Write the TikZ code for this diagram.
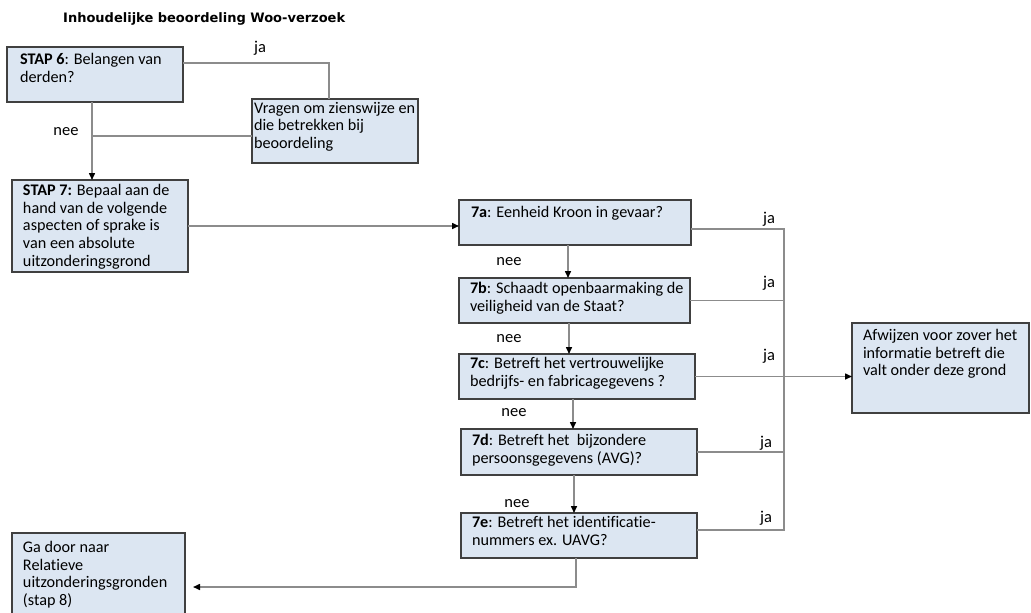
\documentclass[tikz,border=0pt]{standalone}
\usepackage{fontspec}
\setmainfont[Ligatures=NoCommon]{Carlito}
\newfontfamily\titlefont{DejaVu Sans}
\usetikzlibrary{arrows.meta}

\definecolor{boxfill}{HTML}{DCE6F2}
\definecolor{boxline}{HTML}{404040}
\definecolor{connline}{HTML}{8C8C8C}

\tikzset{
  fbox/.style={draw=boxline, fill=boxfill, line width=1.5pt, anchor=north west,
    outer sep=0pt, font=\fontsize{16.2}{17.8}\selectfont},
  conn/.style={draw=connline, line width=1.5pt},
  arr/.style={conn, -{Triangle[length=7pt,width=6pt,color=black]}},
  lbl/.style={anchor=base, inner sep=0pt, font=\fontsize{16.5}{18}\selectfont},
}

% #1 name, #2..#5 corners (x1,y1,x2,y2), #6 left padding, #7 first baseline offset, #8 lines
\newcommand\flowbox[8]{%
  \node[fbox, minimum width=#4pt-#2pt, minimum height=#5pt-#3pt,
        inner xsep=#6pt, inner ysep=#7pt-11pt] (#1) at (#2,#3)
    {\parbox[t][\dimexpr #5pt-#3pt-(#7pt-11pt)*2\relax][t]{\dimexpr #4pt-#2pt-#6pt*2\relax}%
      {\raggedright\rule{0pt}{11pt}#8}};}

\begin{document}
\begin{tikzpicture}[x=1pt, y=-1pt]
\useasboundingbox (0,0) rectangle (1031,613);

\node[anchor=base west, inner sep=0pt, font=\titlefont\bfseries\fontsize{13}{15}\selectfont]
  (title) at (63,22) {Inhoudelijke beoordeling Woo-verzoek};

% boxes
\flowbox{s6}{7}{47}{183}{102}{13}{17}{\mbox{\textbf{STAP 6}: Belangen van}\\\mbox{derden?}}
\flowbox{vr}{252}{99}{418}{163}{2}{14}{\mbox{Vragen om zienswijze en}\\\mbox{die betrekken bij}\\\mbox{beoordeling}}
\flowbox{s7}{12}{180}{188}{272}{11}{15}{\mbox{\textbf{STAP 7:} Bepaal aan de}\\\mbox{hand van de volgende}\\\mbox{aspecten of sprake is}\\\mbox{van een absolute}\\\mbox{uitzonderingsgrond}}
\flowbox{a7}{459}{200}{691}{245}{12}{17}{\mbox{\textbf{7a}: Eenheid Kroon in gevaar?}}
\flowbox{b7}{459}{278}{690}{323}{11}{15}{\mbox{\textbf{7b}: Schaadt openbaarmaking de}\\\mbox{veiligheid van de Staat?}}
\flowbox{c7}{459}{354}{695}{399}{11}{14}{\mbox{\textbf{7c}: Betreft het vertrouwelijke}\\\mbox{bedrijfs- en fabricagegevens ?}}
\flowbox{d7}{461}{429}{697}{475}{11}{16}{\mbox{\textbf{7d}: Betreft het\ \ bijzondere}\\\mbox{persoonsgegevens (AVG)?}}
\flowbox{e7}{461}{513}{697}{558}{11}{14}{\mbox{\textbf{7e}: Betreft het identificatie-}\\\mbox{nummers ex. UAVG?}}
\flowbox{af}{852}{323}{1029}{413}{11}{17}{\mbox{Afwijzen voor zover het}\\\mbox{informatie betreft die}\\\mbox{valt onder deze grond}}
\flowbox{gd}{12}{533}{185}{630}{11}{19}{\mbox{Ga door naar}\\\mbox{Relatieve}\\\mbox{uitzonderingsgronden}\\\mbox{(stap 8)}}

% step 6: ja / nee
\draw[conn] ([yshift=-16pt]s6.north east) -| ([xshift=-6pt]vr.north);
\coordinate (n6) at ([xshift=-3pt]s6.south);
\coordinate (v6) at ([yshift=-5pt]vr.west);
\draw[conn] (v6) -- (v6 -| n6);
\draw[arr] (n6) -- (n6 |- s7.north);
\node[lbl] (ja6) at (260,52) {ja};
\node[lbl] (nee6) at (66,135) {nee};

% step 7 into the chain
\draw[arr] (s7.east) -- (s7.east -| a7.west);

% nee chain
\draw[arr] (568,0 |- a7.south) -- (568,0 |- b7.north);
\draw[arr] (569,0 |- b7.south) -- (569,0 |- c7.north);
\draw[arr] (573,0 |- c7.south) -- (573,0 |- d7.north);
\draw[arr] (574,0 |- d7.south) -- (574,0 |- e7.north);
\node[lbl] (neea) at (509,265) {nee};
\node[lbl] (neeb) at (509,342) {nee};
\node[lbl] (neec) at (514,416) {nee};
\node[lbl] (need) at (517,507) {nee};

% ja collector on the right
\coordinate (rtop) at (784,229);
\coordinate (rbot) at (784,530);
\draw[conn] (a7.east |- rtop) -- (rtop) -- (rbot) -- (e7.east |- rbot);
\draw[conn] (b7.east) -- (b7.east -| rtop);
\draw[conn] (d7.east) -- (d7.east -| rtop);
\draw[arr] (c7.east) -- (c7.east -| af.west);
\node[lbl] (jaa) at (769,223) {ja};
\node[lbl] (jab) at (769,287) {ja};
\node[lbl] (jac) at (769,360) {ja};
\node[lbl] (jad) at (766,447) {ja};
\node[lbl] (jae) at (766,522) {ja};

% last step continues to stap 8
\coordinate (gdin) at ([xshift=8pt]gd.east);
\draw[arr] (576,0 |- e7.south) |- (gdin |- 0,587);
\end{tikzpicture}
\end{document}
